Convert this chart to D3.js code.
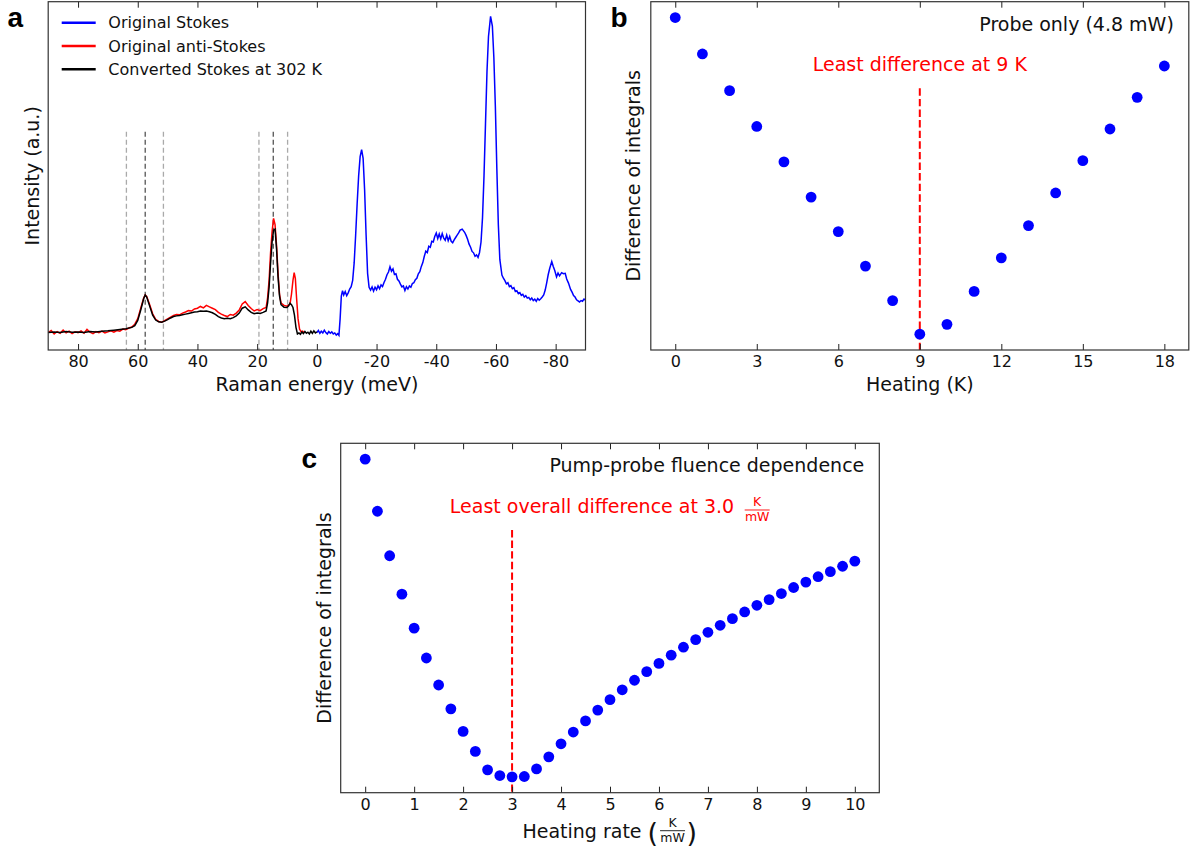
<!DOCTYPE html>
<html>
<head>
<meta charset="utf-8">
<script src="https://cdn.jsdelivr.net/npm/d3@7"></script>
<style>
body { margin: 0; background: #fff; }
svg text { font-family: "DejaVu Sans", sans-serif; }
.panel-label { font-family: "Liberation Sans", Arial, sans-serif !important; font-weight: bold; font-size: 28px; }
</style>
</head>
<body>
<svg id="fig" width="1190" height="854"></svg>
<script>
// ---- panel a: Raman spectra (energy in meV, intensity a.u.)
var ramanTicks = [80, 60, 40, 20, 0, -20, -40, -60, -80]

var antiStokes = [
	[90, 5.0], [89, 5.6], [88, 4.6], [87, 5.3], [86, 4.8], [85, 5.7], [84, 4.9], [83, 5.4], [82, 4.7], [81, 5.2],
	[80, 5.0], [79, 5.5], [78, 4.8], [77, 5.9], [76, 5.1], [75, 4.7], [74, 5.3], [73, 5.0], [72, 5.4], [71, 4.9],
	[70, 5.2], [69, 5.5], [68, 5.1], [67, 5.6], [66, 5.4], [65, 6.0], [64, 5.8], [63, 6.3], [62, 6.6], [61, 7.4],
	[60, 9.0], [59, 12.0], [58, 15.0], [57.5, 15.8], [57, 15.4], [56, 13.0], [55, 10.4], [54, 8.8], [53, 8.2], [52, 8.0],
	[51, 8.4], [50, 8.9], [49, 9.4], [48, 9.9], [47, 10.2], [46, 10.1], [45, 10.6], [44, 10.9], [43, 11.3], [42, 11.2],
	[41, 11.8], [40, 12.0], [39, 12.5], [38, 12.1], [37, 12.8], [36, 12.4], [35, 12.0], [34, 11.6], [33, 10.8], [32, 10.3],
	[31, 9.9], [30, 9.6], [29, 10.2], [28, 10.0], [27, 10.6], [26, 11.5], [25, 13.2], [24, 13.9], [23, 12.8], [22, 11.9],
	[21, 11.2], [20, 11.6], [19, 11.3], [18, 11.9], [17, 12.2], [16.5, 15.0], [16, 20.0], [15.5, 28.0], [15, 34.0], [14.5, 37.8],
	[14, 36.0], [13.5, 30.0], [13, 22.0], [12.5, 16.0], [12, 13.5], [11, 12.8], [10, 12.6], [9, 13.2], [8.5, 16.0], [8, 20.0],
	[7.6, 22.2], [7.2, 20.5], [6.8, 15.0], [6.3, 9.0], [5.8, 6.0], [5.3, 5.2], [4.8, 5.4], [4.2, 5.0]
]

var converted = [
	[90, 5.0], [88, 5.2], [86, 5.0], [84, 5.3], [82, 5.1], [80, 5.2], [78, 5.0], [76, 5.3], [74, 5.2], [72, 5.4],
	[70, 5.5], [68, 5.7], [66, 5.9], [64, 6.1], [62, 6.5], [61, 7.0], [60, 8.5], [59, 11.5], [58, 14.8], [57.5, 15.8],
	[57, 15.2], [56, 12.6], [55, 10.0], [54, 8.6], [53, 8.1], [52, 8.0], [51, 8.3], [50, 8.7], [49, 9.2], [48, 9.6],
	[47, 9.8], [46, 9.9], [45, 10.1], [44, 10.3], [43, 10.5], [42, 10.7], [41, 10.9], [40, 11.0], [39, 11.2], [38, 11.1],
	[37, 11.2], [36, 11.0], [35, 10.7], [34, 10.2], [33, 9.6], [32, 9.2], [31, 9.0], [30, 9.1], [29, 9.0], [28, 9.3],
	[27, 9.8], [26, 10.6], [25, 12.0], [24, 12.4], [23, 11.5], [22, 10.8], [21, 10.4], [20, 10.6], [19, 10.5], [18, 10.8],
	[17, 11.2], [16.5, 13.5], [16, 18.0], [15.5, 25.0], [15, 31.0], [14.5, 34.4], [14, 34.7], [13.5, 29.0], [13, 21.0], [12.5, 15.5],
	[12, 13.0], [11, 12.3], [10, 12.2], [9.5, 12.6], [9, 13.4], [8.5, 13.0], [8, 12.2], [7.5, 10.0], [7, 6.5], [6.5, 4.6],
	[6, 4.9], [5.5, 4.5], [5, 5.2], [4.5, 4.7], [4, 5.3], [3.5, 4.8], [3, 5.1], [2.5, 4.6], [2, 5.4], [1.5, 4.8],
	[1, 5.5], [0.5, 4.9], [0, 5.2]
]

var stokes = [
	[0, 5.0], [-0.5, 5.6], [-1, 4.8], [-1.5, 5.4], [-2, 4.9], [-2.5, 5.7], [-3, 5.0], [-3.5, 4.6], [-4, 5.3], [-4.5, 4.8],
	[-5, 5.2], [-5.5, 4.6], [-6, 4.9], [-6.5, 4.3], [-7, 4.7], [-7.4, 4.2], [-7.8, 9.0], [-8.2, 15.5], [-8.6, 17.0], [-9, 15.8],
	[-9.5, 16.8], [-10, 15.6], [-10.5, 16.4], [-11, 17.5], [-11.5, 18.2], [-12, 20.0], [-12.5, 25.0], [-13, 33.0], [-13.5, 42.0], [-14, 50.0],
	[-14.5, 55.5], [-15, 57.5], [-15.5, 55.0], [-16, 46.0], [-16.5, 33.0], [-17, 22.0], [-17.5, 18.0], [-18, 17.2], [-18.5, 18.1], [-19, 16.9],
	[-19.5, 18.0], [-20, 17.3], [-20.5, 18.4], [-21, 17.6], [-21.5, 18.7], [-22, 18.2], [-22.5, 19.4], [-23, 20.3], [-23.5, 21.6], [-24, 22.4],
	[-24.5, 23.9], [-25, 22.6], [-25.5, 23.3], [-26, 21.7], [-26.5, 21.9], [-27, 20.3], [-27.5, 19.8], [-28, 18.9], [-28.5, 18.1], [-29, 18.4],
	[-29.5, 17.1], [-30, 18.2], [-30.5, 17.5], [-31, 18.4], [-31.5, 18.0], [-32, 19.1], [-32.5, 19.3], [-33, 20.2], [-33.5, 20.6], [-34, 21.9],
	[-34.5, 22.5], [-35, 24.0], [-35.5, 25.1], [-36, 26.9], [-36.5, 28.4], [-37, 28.0], [-37.5, 29.8], [-38, 29.5], [-38.5, 31.2], [-39, 31.0],
	[-39.5, 32.6], [-40, 33.6], [-40.5, 32.0], [-41, 33.3], [-41.5, 31.9], [-42, 33.4], [-42.5, 32.1], [-43, 31.5], [-43.5, 33.0], [-44, 31.4],
	[-44.5, 32.6], [-45, 31.2], [-45.5, 30.8], [-46, 31.6], [-46.5, 32.3], [-47, 33.0], [-47.5, 33.6], [-48, 34.4], [-48.7, 34.7], [-49.5, 33.8],
	[-50, 32.9], [-50.5, 31.8], [-51, 30.4], [-51.5, 29.5], [-52, 28.3], [-52.5, 27.9], [-53, 26.9], [-53.5, 27.3], [-54, 26.6], [-54.5, 28.0],
	[-55, 31.0], [-55.5, 38.0], [-56, 50.0], [-56.5, 65.0], [-57, 80.0], [-57.5, 90.0], [-58.2, 95.8], [-58.8, 93.0], [-59.3, 84.0], [-59.8, 70.0],
	[-60.3, 52.0], [-60.8, 36.0], [-61.3, 26.0], [-62, 21.5], [-62.5, 20.6], [-63, 19.9], [-63.5, 19.0], [-64, 19.3], [-64.5, 18.2], [-65, 18.5],
	[-65.5, 17.6], [-66, 17.9], [-66.5, 16.8], [-67, 17.0], [-67.5, 16.2], [-68, 16.5], [-68.5, 15.7], [-69, 16.0], [-69.5, 15.2], [-70, 15.6],
	[-70.5, 14.9], [-71, 15.1], [-71.5, 14.4], [-72, 14.9], [-72.5, 14.2], [-73, 14.6], [-73.5, 14.0], [-74, 14.8], [-74.5, 14.3], [-75, 14.7],
	[-75.5, 15.2], [-76, 15.8], [-76.5, 17.2], [-77, 19.3], [-77.5, 21.6], [-78, 23.4], [-78.7, 25.4], [-79.2, 24.0], [-79.7, 22.8], [-80.3, 21.0],
	[-80.8, 22.1], [-81.3, 21.3], [-82, 22.2], [-82.6, 21.9], [-83.2, 22.0], [-83.7, 20.4], [-84.3, 19.2], [-85, 17.4], [-85.5, 16.6], [-86, 15.6],
	[-86.5, 15.2], [-87, 14.4], [-87.5, 14.1], [-88, 13.8], [-88.5, 14.2], [-89, 14.0], [-89.5, 14.6], [-90, 14.3]
]

var guideLight = [63.8, 51.4, 19.4, 9.8]
var guideDark = [57.5, 14.6]

var legendNames = ['Original Stokes', 'Original anti-Stokes', 'Converted Stokes at 302 K']
var legendColors = ['#0000ff', '#ff0000', '#000000']

// ---- panel b: probe only
var heatingB = [0, 1, 2, 3, 4, 5, 6, 7, 8, 9, 10, 11, 12, 13, 14, 15, 16, 17, 18]
var diffB = [100, 88.5, 76.9, 65.6, 54.4, 43.3, 32.4, 21.5, 10.6, 0, 3.1, 13.5, 24.1, 34.3, 44.6, 54.8, 64.8, 74.8, 84.7]
var ticksB = [0, 3, 6, 9, 12, 15, 18]
var bestB = 9

// ---- panel c: pump-probe fluence dependence
var rateC = [0, 0.25, 0.5, 0.75, 1, 1.25, 1.5, 1.75, 2, 2.25, 2.5, 2.75, 3, 3.25, 3.5, 3.75, 4, 4.25, 4.5, 4.75,
	5, 5.25, 5.5, 5.75, 6, 6.25, 6.5, 6.75, 7, 7.25, 7.5, 7.75, 8, 8.25, 8.5, 8.75, 9, 9.25, 9.5, 9.75, 10]
var diffC = [100, 83.6, 69.6, 57.5, 46.8, 37.4, 28.9, 21.4, 14.3, 8.0, 2.2, 0.4, 0, 0.1, 2.5, 6.3, 10.4, 14.1, 17.6, 21.0,
	24.3, 27.4, 30.4, 33.1, 35.7, 38.3, 40.8, 43.2, 45.5, 47.7, 49.8, 51.9, 54.0, 55.8, 57.7, 59.6, 61.3, 63.0, 64.6, 66.3, 67.9]
var ticksC = [0, 1, 2, 3, 4, 5, 6, 7, 8, 9, 10]
var bestC = 3

var svg = d3.select('#fig')

function frame(g, w, h) {
	g.append('rect')
		.attr('width', w).attr('height', h)
		.attr('fill', 'none')
		.attr('stroke', '#333')
		.attr('stroke-width', 1.2)
}

// inward ticks top and bottom, labels only on bottom
function xAxes(g, scale, ticks, h, fmt) {
	var bottom = g.append('g')
		.attr('transform', 'translate(0,' + h + ')')
		.call(d3.axisBottom(scale).tickValues(ticks).tickSize(-6).tickPadding(6).tickFormat(fmt))
	var top = g.append('g')
		.call(d3.axisTop(scale).tickValues(ticks).tickSize(-6).tickFormat(''))
	;[bottom, top].forEach(function(a) {
		a.select('.domain').remove()
		a.selectAll('line').attr('stroke', '#222')
		a.selectAll('text').attr('font-size', 16).attr('font-family', '"DejaVu Sans", sans-serif').attr('fill', '#111')
	})
}

function yLabel(x, y, txt) {
	svg.append('text')
		.attr('transform', 'translate(' + x + ',' + y + ') rotate(-90)')
		.attr('text-anchor', 'middle')
		.attr('dy', '0.35em')
		.attr('font-size', 19)
		.attr('fill', '#111')
		.text(txt)
}

// ================= panel a
var aLeft = 48.2, aTop = 1.7, aW = 537.3, aH = 348.3
var ga = svg.append('g').attr('transform', 'translate(' + aLeft + ',' + aTop + ')')

var xa = d3.scaleLinear().domain([90, -90]).range([0, aW])
var ya = d3.scaleLinear().domain([0, 100]).range([aH, 0])

ga.selectAll('line.guide-l')
	.data(guideLight).enter().append('line')
	.attr('class', 'guide-l')
	.attr('x1', function(d) { return xa(d) }).attr('x2', function(d) { return xa(d) })
	.attr('y1', 130).attr('y2', aH)
	.attr('stroke', '#aaa').attr('stroke-width', 1.3).attr('stroke-dasharray', '5,3')

ga.selectAll('line.guide-d')
	.data(guideDark).enter().append('line')
	.attr('class', 'guide-d')
	.attr('x1', function(d) { return xa(d) }).attr('x2', function(d) { return xa(d) })
	.attr('y1', 130).attr('y2', aH)
	.attr('stroke', '#555').attr('stroke-width', 1.3).attr('stroke-dasharray', '5,3')

var lineA = d3.line()
	.x(function(d) { return xa(d[0]) })
	.y(function(d) { return ya(d[1]) })

ga.append('path').datum(stokes)
	.attr('d', lineA).attr('fill', 'none').attr('stroke', '#0000ff').attr('stroke-width', 1.5)
ga.append('path').datum(antiStokes)
	.attr('d', lineA).attr('fill', 'none').attr('stroke', '#ff0000').attr('stroke-width', 1.5)
ga.append('path').datum(converted)
	.attr('d', lineA).attr('fill', 'none').attr('stroke', '#000').attr('stroke-width', 1.5)

xAxes(ga, xa, ramanTicks, aH, function(d) { return d < 0 ? '-' + Math.abs(d) : d })
frame(ga, aW, aH)

var leg = svg.append('g').selectAll('g')
	.data(legendNames).enter().append('g')
	.attr('transform', function(d, i) { return 'translate(61.7,' + (22.7 + i * 23.3) + ')' })
leg.append('line')
	.attr('x1', 0).attr('x2', 34)
	.attr('stroke', function(d, i) { return legendColors[i] })
	.attr('stroke-width', 2.6)
leg.append('text')
	.attr('x', 46.6).attr('y', 5.6)
	.attr('font-size', 16).attr('fill', '#111')
	.text(function(d) { return d })

svg.append('text').attr('class', 'panel-label').attr('x', 7.5).attr('y', 26.5).text('a')
svg.append('text')
	.attr('x', aLeft + xa(0)).attr('y', 391)
	.attr('text-anchor', 'middle').attr('font-size', 19).attr('fill', '#111')
	.text('Raman energy (meV)')
yLabel(32.5, aTop + aH / 2, 'Intensity (a.u.)')

// ================= panel b
var bLeft = 650.8, bTop = 1.7, bW = 538, bH = 348.3
var gb = svg.append('g').attr('transform', 'translate(' + bLeft + ',' + bTop + ')')

var xb = d3.scaleLinear().domain([-0.9, 18.9]).range([0, bW])
var yb = d3.scaleLinear().domain([-5, 105]).range([bH, 0])

gb.append('line')
	.attr('x1', xb(bestB)).attr('x2', xb(bestB))
	.attr('y1', 86.6).attr('y2', bH)
	.attr('stroke', '#ff0000').attr('stroke-width', 2).attr('stroke-dasharray', '7.4,3.2')

gb.selectAll('circle')
	.data(heatingB).enter().append('circle')
	.attr('cx', function(d) { return xb(d) })
	.attr('cy', function(d, i) { return yb(diffB[i]) })
	.attr('r', 5.4)
	.attr('fill', '#0000ff')

xAxes(gb, xb, ticksB, bH, d3.format('d'))
frame(gb, bW, bH)

gb.append('text')
	.attr('x', bW - 15).attr('y', 29)
	.attr('text-anchor', 'end').attr('font-size', 19).attr('fill', '#111')
	.text('Probe only (4.8 mW)')
gb.append('text')
	.attr('x', xb(bestB)).attr('y', 69.5)
	.attr('text-anchor', 'middle').attr('font-size', 19).attr('fill', '#ff0000')
	.text('Least difference at 9 K')

svg.append('text').attr('class', 'panel-label').attr('x', 610.5).attr('y', 26.5).text('b')
svg.append('text')
	.attr('x', bLeft + xb(9)).attr('y', 391)
	.attr('text-anchor', 'middle').attr('font-size', 19).attr('fill', '#111')
	.text('Heating (K)')
yLabel(633, bTop + bH / 2, 'Difference of integrals')

// ================= panel c
var cLeft = 340.7, cTop = 443.3, cW = 538.6, cH = 349.4
var gc = svg.append('g').attr('transform', 'translate(' + cLeft + ',' + cTop + ')')

var xc = d3.scaleLinear().domain([-0.5, 10.5]).range([0, cW])
var yc = d3.scaleLinear().domain([-5, 105]).range([cH, 0])

gc.append('line')
	.attr('x1', xc(bestC)).attr('x2', xc(bestC))
	.attr('y1', 86.7).attr('y2', cH)
	.attr('stroke', '#ff0000').attr('stroke-width', 2).attr('stroke-dasharray', '7.4,3.2')

gc.selectAll('circle')
	.data(rateC).enter().append('circle')
	.attr('cx', function(d) { return xc(d) })
	.attr('cy', function(d, i) { return yc(diffC[i]) })
	.attr('r', 5.4)
	.attr('fill', '#0000ff')

xAxes(gc, xc, ticksC, cH, d3.format('d'))
frame(gc, cW, cH)

gc.append('text')
	.attr('x', cW - 15).attr('y', 28.4)
	.attr('text-anchor', 'end').attr('font-size', 19).attr('fill', '#111')
	.text('Pump-probe fluence dependence')

// K/mW stacked fraction
function fraction(g, cx, y0, color, size) {
	g.append('text').attr('x', cx).attr('y', y0 - 5)
		.attr('text-anchor', 'middle').attr('font-size', size).attr('fill', color).text('K')
	g.append('line').attr('x1', cx - 12.5).attr('x2', cx + 12.5)
		.attr('y1', y0 - 0.8).attr('y2', y0 - 0.8)
		.attr('stroke', color).attr('stroke-width', 0.9)
	g.append('text').attr('x', cx).attr('y', y0 + 10.5)
		.attr('text-anchor', 'middle').attr('font-size', size).attr('fill', color).text('mW')
}

// red annotation centred on x = 5
var ann = gc.append('g')
var annText = ann.append('text')
	.attr('y', 69.4).attr('font-size', 19).attr('fill', '#ff0000')
	.text('Least overall difference at 3.0')
var annLen = annText.node().getComputedTextLength()
var annStart = xc(5) - (annLen + 36) / 2
annText.attr('x', annStart)
fraction(ann, annStart + annLen + 23, 67.5, '#ff0000', 12.5)

svg.append('text').attr('class', 'panel-label').attr('x', 301.5).attr('y', 468).text('c')

var xl = svg.append('g')
var xlText = xl.append('text')
	.attr('y', 838.3).attr('font-size', 19).attr('fill', '#111')
	.text('Heating rate')
var xlLen = xlText.node().getComputedTextLength()
var xlStart = cLeft + xc(5) - (xlLen + 56) / 2
xlText.attr('x', xlStart)
xl.append('text').attr('x', xlStart + xlLen + 6).attr('y', 842)
	.attr('font-size', 27).attr('fill', '#111').text('(')
fraction(xl, xlStart + xlLen + 31, 831.5, '#111', 12.5)
xl.append('text').attr('x', xlStart + xlLen + 45).attr('y', 842)
	.attr('font-size', 27).attr('fill', '#111').text(')')

yLabel(324, cTop + cH / 2, 'Difference of integrals')
</script>
</body>
</html>
